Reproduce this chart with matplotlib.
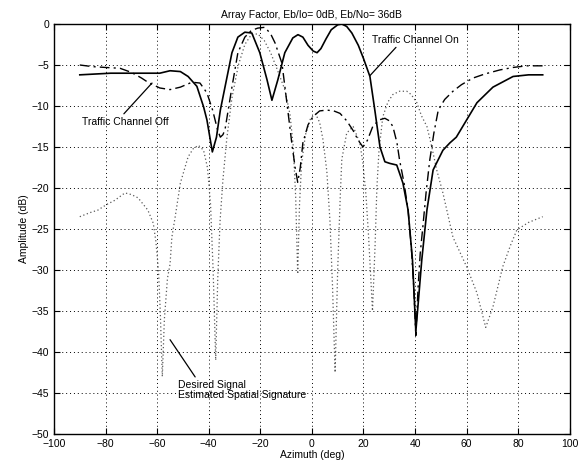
import numpy as np
import matplotlib
matplotlib.use('Agg')
import matplotlib.pyplot as plt

plt.rcParams['font.family'] = ['Liberation Sans', 'DejaVu Sans']

# traffic channel on (solid)
on_x = [-90, -78, -66.7, -59, -55, -51, -48, -44.6, -42, -40.7, -38.6, -37, -35.5, -33.7, -31, -28.7,
        -26, -23.3, -20.2, -17.4, -15.5, -13.2, -10.5, -7.4, -5.4, -3.5, -1.5, 0.5, 2, 3.5, 5.5, 7.5,
        10, 11.6, 13.5, 15.5, 18, 20, 22.5, 24.4, 26.4, 28.3, 30.2, 32.9, 35.3, 37.3, 39, 40.3,
        41.5, 42.6, 44.6, 47, 50.8, 53.5, 56, 60, 64, 70.2, 78, 84, 89.5]
on_y = [-6.2, -6.0, -6.0, -6.0, -5.7, -5.8, -6.4, -7.6, -10.1, -11.7, -15.6, -13.8, -10.5, -7.7, -3.5, -1.6,
        -1.0, -1.1, -3.5, -6.8, -9.3, -6.8, -3.5, -1.7, -1.3, -1.6, -2.6, -3.3, -3.5, -3.0, -1.8, -0.7,
        -0.1, 0.0, -0.3, -1.1, -2.6, -4.2, -6.4, -10.5, -15.0, -16.8, -17.0, -17.2, -19.4, -22.7, -28.8, -37.5,
        -33.0, -28.8, -22.7, -17.8, -15.4, -14.5, -13.8, -11.7, -9.6, -7.7, -6.4, -6.2, -6.2]

# traffic channel off (dash-dot)
off_x = [-90, -85, -80, -74.4, -70, -66, -63.6, -59, -55, -51, -46.5, -43.4, -40.7, -38.5, -36.5, -35.5,
         -34.5, -33.7, -31, -28.7, -26, -23.5, -21, -18.2, -16, -14.3, -11.6, -9.7, -7.8, -6.5, -5.5,
         -4.5, -3.5, -1.5, 0.4, 3, 5.8, 8.5, 10.9, 13.5, 16, 18, 19.8, 21.5, 23.6, 26, 28.3, 30, 31.4,
         33, 34, 35.8, 37.3, 38.5, 39.5, 40.3, 41.2, 42, 43, 44.3, 45.7, 47.3, 49, 51.5, 54.7, 58, 62.4,
         67, 72.9, 78, 83.3, 89.5]
off_y = [-5.0, -5.2, -5.3, -5.4, -5.9, -6.6, -7.1, -7.8, -8.0, -7.7, -7.1, -7.2, -8.4, -10.5, -13.0, -13.8,
         -13.5, -12.9, -7.7, -3.5, -1.6, -0.8, -0.5, -0.4, -1.2, -2.3, -4.8, -9.6, -14.5, -17.5, -19.3,
         -17.5, -14.5, -12.3, -11.3, -10.6, -10.5, -10.6, -10.9, -11.8, -13.0, -14.2, -15.0, -14.2, -12.5, -11.7, -11.5, -11.8, -12.5,
         -14.5, -16.6, -19.5, -22.7, -27.0, -32.0, -38.0, -32.0, -28.0, -24.8, -20.5, -16.6, -13.3, -10.5, -9.2, -8.2, -7.4, -6.6,
         -6.1, -5.6, -5.3, -5.1, -5.1]

# desired signal estimated spatial signature (dotted)
des_x = [-90, -86, -83, -79.5, -76.4, -72.5, -70, -67.4, -63.6, -61.5, -60.5, -59.5, -58.8, -58, -57.2,
         -56, -55, -54.3, -53, -51, -48, -46, -44, -42, -40.5, -39.3, -38.3, -37.3, -36.5, -35.6, -34.5,
         -33, -31, -28.5, -26, -23.5, -21, -18.5, -16, -13.5, -10.5, -8.5, -7.2, -6.3, -5.5, -4.8, -4,
         -2.5, -0.5, 1.5, 3, 4.3, 5.8, 7, 8, 9, 10, 11, 11.6, 13.5, 16, 18.6, 19.8, 21, 22, 23.5, 24.5,
         25.2, 26, 27.5, 29.5, 31.4, 34, 36.8, 38.5, 40.7, 42.5, 44.6, 46.5, 48.4, 50.8, 54.7, 60, 64,
         67.4, 70.2, 74, 77, 79.5, 84, 89.5]
des_y = [-23.5, -23.0, -22.7, -22.0, -21.5, -20.6, -20.8, -21.2, -22.7, -24.3, -26.5, -30.0, -35.0, -43.0, -36.0,
         -31.0, -29.3, -26.0, -23.5, -19.4, -16.2, -15.2, -14.8, -15.4, -17.5, -22.0, -30.0, -41.0, -31.0, -24.0, -19.0,
         -14.0, -9.0, -5.0, -2.5, -1.3, -1.2, -2.0, -3.5, -5.5, -8.0, -11.0, -15.0, -21.0, -30.5, -22.0, -17.0,
         -13.5, -11.5, -11.0, -12.0, -14.1, -18.0, -24.0, -32.0, -42.5, -30.0, -21.0, -16.5, -13.3, -12.5, -14.5, -17.0, -21.0, -26.0, -35.0, -27.0,
         -20.0, -15.5, -11.3, -9.5, -8.6, -8.2, -8.2, -8.6, -9.6, -11.2, -12.5, -15.0, -17.8, -20.6, -26.0, -29.6, -32.8,
         -37.0, -34.5, -29.6, -27.0, -25.1, -24.2, -23.5]

fig = plt.figure(figsize=(5.85, 4.67), dpi=100)
ax = fig.add_axes([0.0923, 0.0707, 0.8817, 0.8779])

ax.plot(des_x, des_y, color='0.35', linestyle=(0, (1, 2)), linewidth=0.9)
ax.plot(off_x, off_y, color='black', linestyle=(0, (7, 3, 1.5, 3)), linewidth=1.0)
ax.plot(on_x, on_y, color='black', linestyle='-', linewidth=1.2)

ax.set_xlim(-100, 100)
ax.set_ylim(-50, 0)
ax.set_xticks(np.arange(-100, 101, 20))
ax.set_yticks(np.arange(-50, 1, 5))
ax.grid(True, color='black', linestyle=(0, (1, 3)), linewidth=0.7)
ax.tick_params(direction='in', top=True, right=True, labelsize=7.5, length=4)
for s in ax.spines.values():
    s.set_linewidth(1.0)

ax.set_title('Array Factor, Eb/Io= 0dB, Eb/No= 36dB', fontsize=7.5, pad=4)
ax.set_xlabel('Azimuth (deg)', fontsize=7.5, labelpad=1)
ax.set_ylabel('Amplitude (dB)', fontsize=7.5, labelpad=2)

ax.annotate('Traffic Channel On', xy=(22.5, -6.3), xytext=(23.5, -1.9),
            fontsize=7.5, ha='left', va='center',
            arrowprops=dict(arrowstyle='-', color='black', lw=0.9, shrinkA=0, shrinkB=0,
                            relpos=(0.3, 0.0)))
ax.annotate('Traffic Channel Off', xy=(-62, -7.2), xytext=(-89, -11.9),
            fontsize=7.5, ha='left', va='center',
            arrowprops=dict(arrowstyle='-', color='black', lw=0.9, shrinkA=0, shrinkB=0,
                            relpos=(0.45, 1.0)))
ax.annotate('Desired Signal\nEstimated Spatial Signature', xy=(-55, -38.5), xytext=(-52, -44.6),
            fontsize=7.5, ha='left', va='center', linespacing=1.0,
            arrowprops=dict(arrowstyle='-', color='black', lw=0.9, shrinkA=0, shrinkB=0,
                            relpos=(0.15, 1.0)))

fig.savefig('out.png', dpi=100)
